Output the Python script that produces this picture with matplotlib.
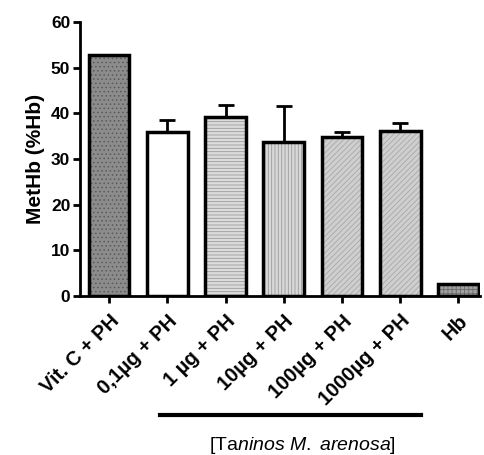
import matplotlib
matplotlib.use("Agg")
import matplotlib.pyplot as plt
import numpy as np

plt.rcParams['font.family'] = ['Liberation Sans', 'DejaVu Sans']
plt.rcParams['mathtext.fontset'] = 'custom'
plt.rcParams['mathtext.it'] = 'Liberation Sans:italic'
plt.rcParams['mathtext.rm'] = 'Liberation Sans'
plt.rcParams['hatch.linewidth'] = 0.6

labels = ["Vit. C + PH", "0,1\u00b5g + PH", "1 \u00b5g + PH", "10\u00b5g + PH",
          "100\u00b5g + PH", "1000\u00b5g + PH", "Hb"]
means = [52.8, 35.9, 39.2, 33.8, 34.9, 36.1, 2.7]
errs = [0, 2.7, 2.6, 7.8, 1.1, 1.7, 0]

faces = ['#8c8c8c', 'white', '#dcdcdc', '#d8d8d8', '#cfcfcf', '#cfcfcf', '#a0a0a0']
hatches = ['....', None, '-----', '|||||', '//////', '//////', '++++']
hcols = ['#5a5a5a', 'black', '#9a9a9a', '#9a9a9a', '#a8a8a8', '#a8a8a8', '#6a6a6a']

fig = plt.figure(figsize=(4.84, 4.55), dpi=100)
ax = fig.add_axes([80/484, 159/455, 400/484, 274/455])

x = np.arange(len(labels))
for i in range(len(labels)):
    ax.bar(x[i], means[i], width=0.7, color=faces[i], edgecolor=hcols[i],
           hatch=hatches[i], linewidth=0, zorder=2)
    ax.bar(x[i], means[i], width=0.7, color='none', edgecolor='black',
           linewidth=2.5, zorder=3)
    if errs[i] > 0:
        ax.errorbar(x[i], means[i], yerr=[[0], [errs[i]]], fmt='none',
                    ecolor='black', elinewidth=2, capsize=6, capthick=2, zorder=1)

ax.set_xlim(-0.5, 6.37)
ax.set_ylim(0, 60)
ax.set_yticks([0, 10, 20, 30, 40, 50, 60])
ax.set_xticks(x)
ax.set_xticklabels(labels, rotation=45, ha='right', va='top', rotation_mode='anchor',
                   fontweight='bold', fontsize=14.5)
for t in ax.get_yticklabels():
    t.set_fontweight('bold')
    t.set_fontsize(12.5)
ax.tick_params(axis='both', width=2, length=5, direction='out', pad=2)
ax.tick_params(axis='x', pad=6)
ax.set_ylabel('MetHb (%Hb)', fontweight='bold', fontsize=15, labelpad=4)

for s in ['top', 'right']:
    ax.spines[s].set_visible(False)
for s in ['left', 'bottom']:
    ax.spines[s].set_linewidth(2)

# bracket under tannin concentrations
fig.add_artist(plt.Line2D([160/484, 421/484], [1 - 415/455, 1 - 415/455],
                          color='black', linewidth=3))
fig.text(302/484, 1 - 445/455, r"[Ta$\it{ninos\ M.\ arenosa}$]",
         ha='center', va='center', fontsize=14)

fig.savefig('out.png', dpi=100)
